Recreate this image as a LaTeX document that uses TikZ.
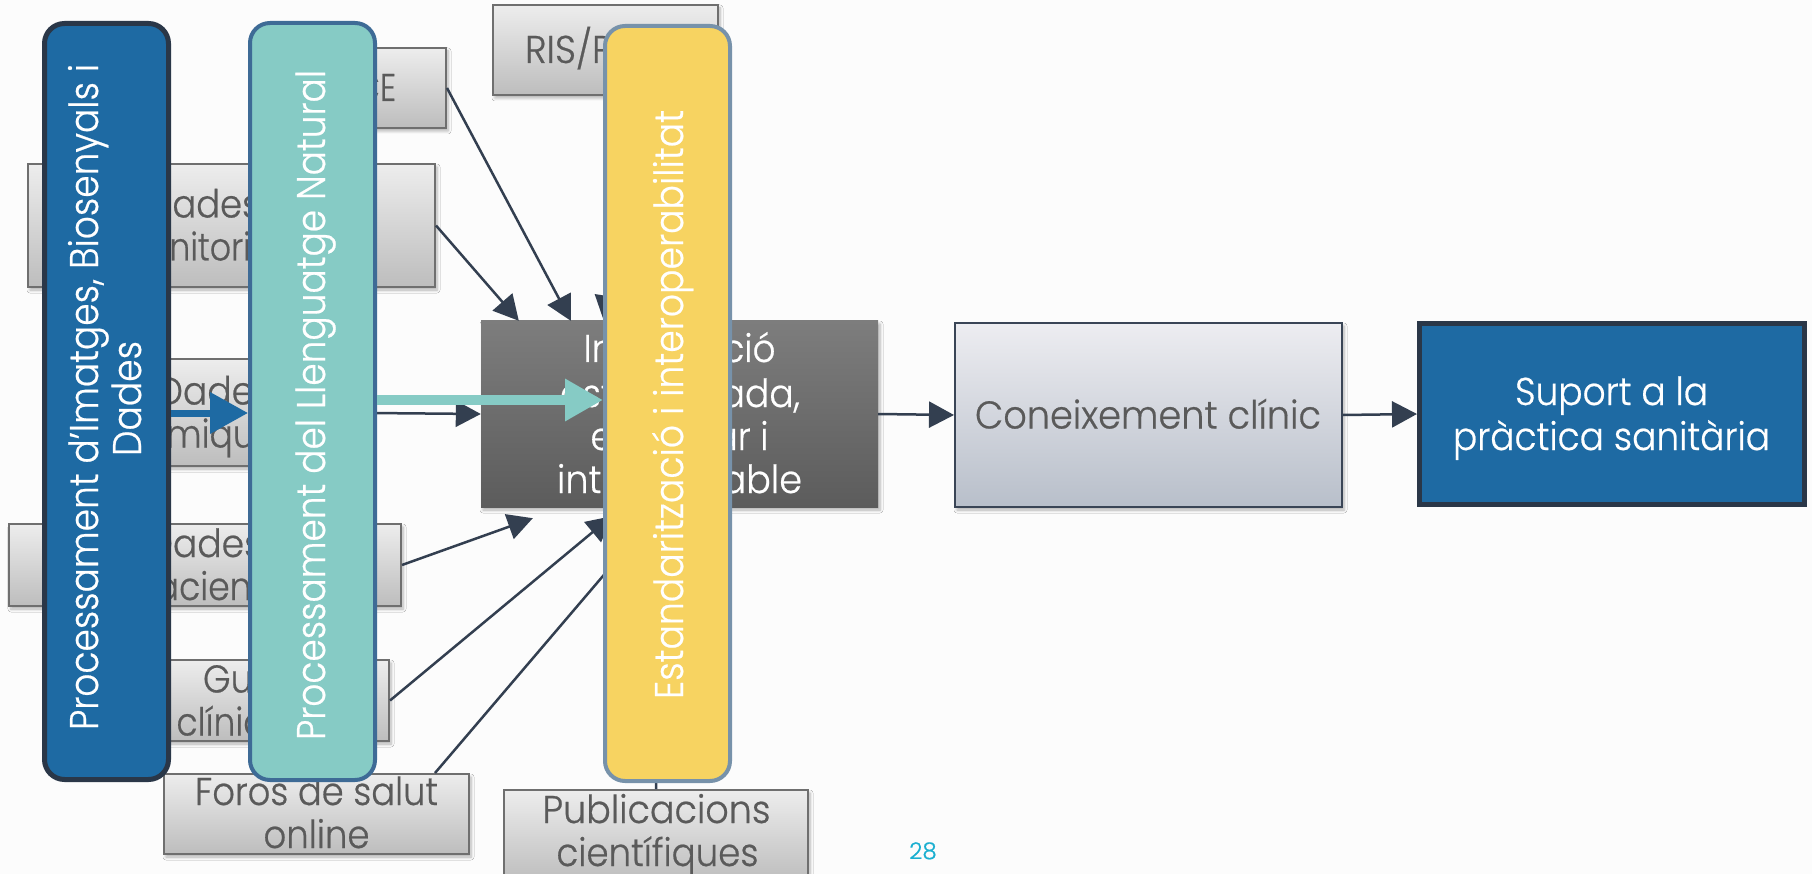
\documentclass[tikz,border=0pt]{standalone}
\usepackage{fontspec}
\setmainfont{Poppins}[UprightFont={* Light},FakeBold=0.6]
\usepackage{graphicx}
\usetikzlibrary{arrows.meta,shadows.blur,calc}

\definecolor{pagebg}{HTML}{FCFCFC}
\definecolor{bluefill}{HTML}{1E6AA3}
\definecolor{blueline}{HTML}{2A3748}
\definecolor{tealfill}{HTML}{86CBC5}
\definecolor{tealline}{HTML}{3E6B96}
\definecolor{yellowfill}{HTML}{F7D361}
\definecolor{yellowline}{HTML}{7792AA}
\definecolor{arrowc}{HTML}{333F50}
\definecolor{graytop}{HTML}{EDEDED}
\definecolor{graybot}{HTML}{BDBDBD}
\definecolor{grayline}{HTML}{6F6F6F}
\definecolor{graytext}{HTML}{5A5A5A}
\definecolor{darktop}{HTML}{7D7D7D}
\definecolor{darkbot}{HTML}{5C5C5C}
\definecolor{conetop}{HTML}{EDEDF1}
\definecolor{conebot}{HTML}{B8BFCA}
\definecolor{coneline}{HTML}{3A4556}
\definecolor{pagenum}{HTML}{1AAFD0}

% stretch one line of text to a given width (in px = pt), keeping its height
\newcommand{\fitline}[2]{\resizebox{#1pt}{\height}{#2}}

\begin{document}
\begin{tikzpicture}[x=1pt,y=-1pt,
  softshadow/.style={blur shadow={shadow xshift=2pt,shadow yshift=-3pt,
      shadow blur radius=3pt,shadow blur steps=6,shadow opacity=30}},
  source/.style={draw=grayline,line width=2pt,top color=graytop,
      bottom color=graybot,inner sep=0pt,softshadow},
  boxtext/.style={text=graytext,inner sep=0pt,anchor=base,
      font=\fontsize{38.7}{44}\selectfont},
  whitetext/.style={text=white,inner sep=0pt,anchor=base,
      font=\fontsize{38.7}{44}\selectfont},
  bartext/.style={text=white,inner sep=0pt,anchor=base,rotate=90,
      font=\fontsize{40}{44}\selectfont},
  bar/.style={rounded corners=20pt,inner sep=0pt},
  feed/.style={draw=arrowc,line width=2.5pt,
      -{Triangle[length=25pt,width=26pt]}},
  fatarrow/.style={line width=#1,-{Triangle[length=38pt,width=40pt]}},
]
\useasboundingbox (0,0) rectangle (1812,874);
\fill[pagebg] (0,0) rectangle (1812,874);

% ---------- data sources ----------
\node[source,minimum width=162pt,minimum height=80pt] (hce) at (365,88) {};
\node[boxtext] (thce) at (365,101) {\fitline{62}{HCE}};

\node[source,minimum width=225pt,minimum height=90pt] (ris) at (605.5,50) {};
\node[boxtext] (tris) at (605.5,63) {\fitline{161}{RIS/PACS}};

\node[source,minimum width=407pt,minimum height=123pt] (monit) at (231.5,225.5) {};
\node[boxtext] (tmonit1) at (231.5,217.5) {\fitline{168}{Dades de}};
\node[boxtext] (tmonit2) at (231.5,260.5) {\fitline{235}{monitorització}};

\node[source,minimum width=192pt,minimum height=107pt] (omiq) at (217,412.5) {};
\node[boxtext] (tomiq1) at (215,404.5) {\fitline{115}{Dades}};
\node[boxtext] (tomiq2) at (219,447.5) {\fitline{150}{òmiques}};

\node[source,minimum width=392pt,minimum height=82pt] (pac) at (205,565) {};
\node[boxtext] (tpac1) at (205,557) {\fitline{115}{Dades}};
\node[boxtext] (tpac2) at (207,600) {\fitline{149}{pacients}};

\node[source,minimum width=274pt,minimum height=81pt] (guies) at (252,700.5) {};
\node[boxtext] (tguies1) at (252,692.5) {\fitline{98}{Guies}};
\node[boxtext] (tguies2) at (252,735.5) {\fitline{151}{clíniques}};

\node[source,minimum width=305pt,minimum height=80pt] (foros) at (316.5,814) {};
\node[boxtext] (tforos1) at (316.5,805) {\fitline{243}{Foros de salut}};
\node[boxtext] (tforos2) at (316.5,848) {\fitline{106}{online}};

\node[source,minimum width=304pt,minimum height=92pt] (pub) at (656,836) {};
\node[boxtext] (tpub1) at (656.5,823) {\fitline{228}{Publicacions}};
\node[boxtext] (tpub2) at (657.5,866) {\fitline{202}{científiques}};

% ---------- pipeline ----------
\node[top color=darktop,bottom color=darkbot,inner sep=0pt,softshadow,
      minimum width=397pt,minimum height=186pt] (dark) at (679.5,414) {};
\node[whitetext] (tdark1) at (679.5,362) {\fitline{192}{Informació}};
\node[whitetext] (tdark2) at (680,407) {\fitline{240}{estructurada,}};
\node[whitetext] (tdark3) at (679.5,450) {\fitline{178}{estàndar i}};
\node[whitetext] (tdark4) at (679.5,493) {\fitline{245}{interoperable}};

\node[draw=coneline,line width=2pt,top color=conetop,bottom color=conebot,
      inner sep=0pt,softshadow,minimum width=387pt,minimum height=184pt]
      (cone) at (1148.5,415) {};
\node[boxtext] (tcone) at (1148,428.5) {\fitline{346}{Coneixement clínic}};

\node[draw=blueline,line width=5pt,fill=bluefill,inner sep=0pt,
      minimum width=385pt,minimum height=181pt] (supp) at (1612,414) {};
\node[whitetext] (tsupp1) at (1611.5,405) {\fitline{193}{Suport a la}};
\node[whitetext] (tsupp2) at (1611.5,450) {\fitline{317}{pràctica sanitària}};

% ---------- flows ----------
\draw[feed] (hce.east) -- ([xshift=90pt]dark.north west);
\draw[feed] (monit.east) -- ([xshift=38pt]dark.north west);
\draw[feed] ([xshift=148pt]ris.south west) -- ([xshift=123pt]dark.north west);
\draw[feed] (omiq.east) -- (dark.west);
\draw[feed] (pac.east) -- ([xshift=52pt,yshift=-11pt]dark.south west);
\draw[feed] (guies.east) -- ([xshift=131pt,yshift=-9pt]dark.south west);
\draw[feed] ([xshift=272pt]foros.north west) -- ([xshift=174pt,yshift=-8pt]dark.south west);
\draw[feed] (pub.north) -- ([xshift=175pt,yshift=-8pt]dark.south west);
\draw[feed] (dark.east) -- (cone.west);
\draw[feed] (cone.east) -- (supp.west);

% ---------- processing bars ----------
\node[bar,draw=blueline,line width=5pt,fill=bluefill,
      minimum width=124pt,minimum height=756pt] (blue) at (106.5,401.5) {};
\node[bartext] (tblue1) at (98,397)
      {\fitline{666}{Processament d'Imatges, Biosenyals i}};
\node[bartext] (tblue2) at (141,398.5) {\fitline{115}{Dades}};

\node[bar,draw=tealline,line width=4pt,fill=tealfill,
      minimum width=125pt,minimum height=757pt] (teal) at (312.5,401.5) {};
\node[bartext] (tteal) at (325,405)
      {\fitline{670}{Processament del Llenguatge Natural}};

% left edge of the standardisation bar, where the NLP arrow stops
\coordinate (stdedge) at (603,400);

\draw[fatarrow=7pt,draw=bluefill,fill=bluefill]
      ([yshift=-11.5pt]blue.east) -- ([yshift=-11.5pt]blue.east -| teal.west);
\draw[fatarrow=10pt,draw=tealfill,fill=tealfill]
      (teal.east |- stdedge) -- (stdedge);

% ---------- standardisation bar, on top of everything ----------
\node[bar,draw=yellowline,line width=4pt,fill=yellowfill,
      minimum width=125pt,minimum height=755pt] (yellow) at (667.5,403.5) {};
\node[bartext] (tyellow) at (683,404.5)
      {\fitline{589}{Estandarització i interoperabilitat}};

% ---------- slide number ----------
\node[text=pagenum,inner sep=0pt,anchor=base,font=\fontsize{23}{26}\selectfont]
      (pageno) at (923,859) {28};
\end{tikzpicture}
\end{document}
